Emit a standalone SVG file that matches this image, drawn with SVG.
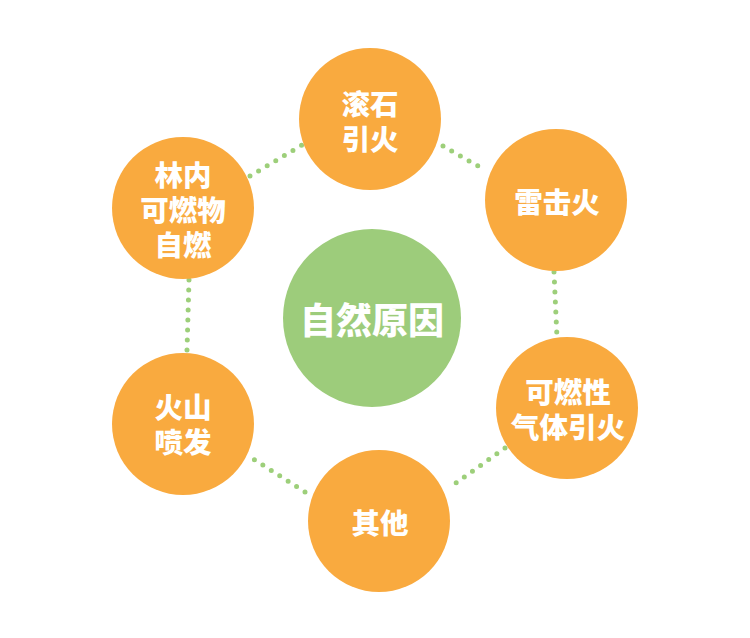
<svg xmlns="http://www.w3.org/2000/svg" width="750" height="638" viewBox="0 0 750 638">
<style>
.n{fill:#F9AA3F}
.c{fill:#9DCC7B}
.t{font-family:"Noto Sans CJK SC","Noto Sans",sans-serif;font-weight:900;fill:#fff;text-anchor:middle;dominant-baseline:central;font-size:28.5px}
.tc{font-size:36px}
.d{stroke:#9DCF7A;stroke-width:5;stroke-linecap:round;stroke-dasharray:0 10;fill:none}
</style>
<rect width="750" height="638" fill="#fff"/>
<g id="connectors">
<line class="d" x1="250" y1="176" x2="302" y2="145"/>
<line class="d" x1="443" y1="146" x2="485" y2="170"/>
<line class="d" x1="554" y1="272" x2="557" y2="338"/>
<line class="d" x1="505" y1="448" x2="449" y2="488"/>
<line class="d" x1="305" y1="492" x2="247" y2="455"/>
<line class="d" x1="187" y1="350" x2="189" y2="280"/>
</g>
<g id="center"><circle class="c" cx="372" cy="318" r="89"/><text class="t tc" x="372" y="318">自然原因</text></g>
<g id="n1"><circle class="n" cx="370" cy="119" r="71"/><text class="t" x="370" y="102">滚石</text><text class="t" x="370" y="137">引火</text></g>
<g id="n2"><circle class="n" cx="556" cy="200" r="71"/><text class="t" x="557" y="200">雷击火</text></g>
<g id="n3"><circle class="n" cx="567" cy="408" r="71"/><text class="t" x="568" y="390">可燃性</text><text class="t" x="568" y="425">气体引火</text></g>
<g id="n4"><circle class="n" cx="379" cy="521" r="71"/><text class="t" x="380" y="521">其他</text></g>
<g id="n5"><circle class="n" cx="183" cy="424" r="71"/><text class="t" x="183" y="405">火山</text><text class="t" x="183" y="440">喷发</text></g>
<g id="n6"><circle class="n" cx="183" cy="208" r="71"/><text class="t" x="183" y="173">林内</text><text class="t" x="183" y="208">可燃物</text><text class="t" x="183" y="243">自燃</text></g>
</svg>
